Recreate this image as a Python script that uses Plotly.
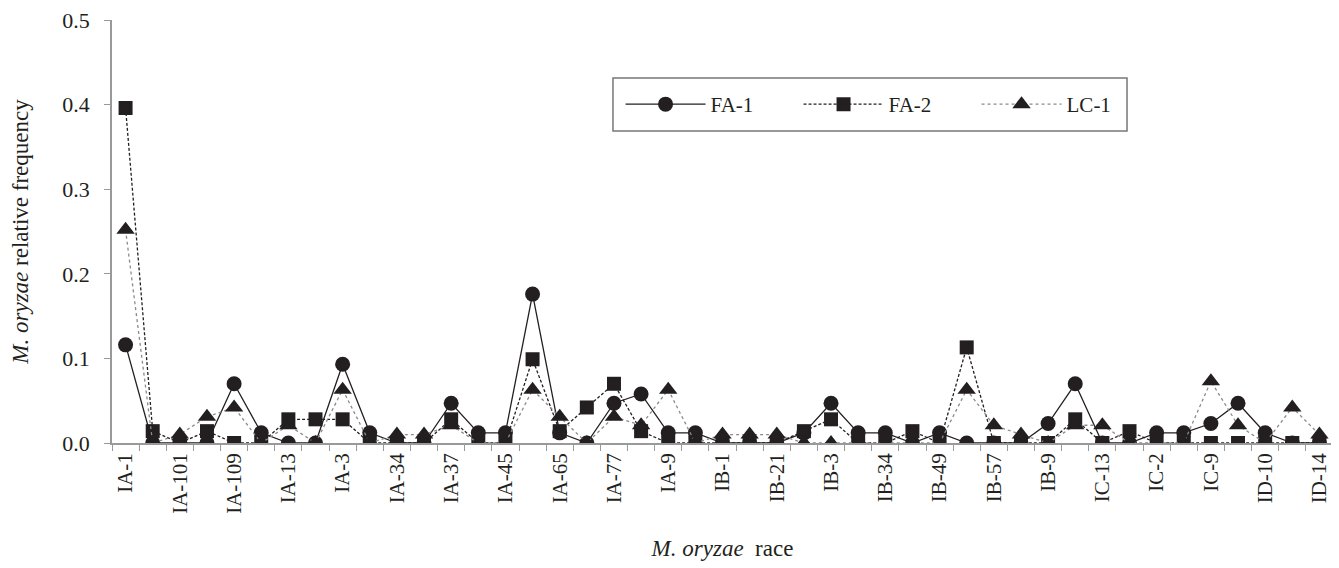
import plotly.graph_objects as go

races = ["IA-1", "IA-10", "IA-101", "IA-105", "IA-109", "IA-117", "IA-13", "IA-25",
         "IA-3", "IA-33", "IA-34", "IA-35", "IA-37", "IA-41", "IA-45", "IA-57",
         "IA-65", "IA-69", "IA-77", "IA-89", "IA-9", "IA-97", "IB-1", "IB-13",
         "IB-21", "IB-25", "IB-3", "IB-33", "IB-34", "IB-45", "IB-49", "IB-5",
         "IB-57", "IB-61", "IB-9", "IC-1", "IC-13", "IC-17", "IC-2", "IC-29",
         "IC-9", "ID-1", "ID-10", "ID-13", "ID-14"]

fa1 = [0.116, 0, 0, 0, 0.070, 0.012, 0, 0, 0.093, 0.012, 0, 0, 0.047, 0.012, 0.012,
       0.176, 0.012, 0, 0.047, 0.058, 0.012, 0.012, 0, 0, 0, 0.012, 0.047, 0.012, 0.012,
       0, 0.012, 0, 0, 0, 0.023, 0.070, 0, 0, 0.012, 0.012, 0.023, 0.047, 0.012, 0, 0]

fa2 = [0.396, 0.014, 0, 0.014, 0, 0, 0.028, 0.028, 0.028, 0, 0, 0, 0.028, 0, 0,
       0.099, 0.014, 0.042, 0.070, 0.014, 0, 0, 0, 0, 0, 0.014, 0.028, 0, 0,
       0.014, 0, 0.113, 0, 0, 0, 0.028, 0, 0.014, 0, 0, 0, 0, 0, 0, 0]

lc1 = [0.252, 0, 0.010, 0.031, 0.042, 0, 0.021, 0, 0.063, 0, 0.010, 0.010, 0.021, 0, 0,
       0.063, 0.031, 0, 0.031, 0.021, 0.063, 0, 0.010, 0.010, 0.010, 0, 0, 0, 0,
       0, 0, 0.063, 0.021, 0.010, 0, 0.021, 0.021, 0, 0, 0, 0.073, 0.021, 0, 0.042, 0.010]

y_ticks = [0.0, 0.1, 0.2, 0.3, 0.4, 0.5]

idx = list(range(len(races)))
ink = "#231f20"
font = "Liberation Serif"

fig = go.Figure()
fig.add_trace(go.Scatter(x=idx, y=fa1, name="FA-1", mode="lines+markers",
                         line=dict(color=ink, width=1.3),
                         marker=dict(symbol="circle", size=15, color=ink)))
fig.add_trace(go.Scatter(x=idx, y=fa2, name="FA-2", mode="lines+markers",
                         line=dict(color=ink, width=1.3, dash="3px,2px"),
                         marker=dict(symbol="square", size=14, color=ink)))
fig.add_trace(go.Scatter(x=idx, y=lc1, name="LC-1", mode="lines+markers",
                         line=dict(color="#8a8a8a", width=1.3, dash="dot"),
                         marker=dict(symbol="triangle-up", size=16, color=ink)))

# legend frame (legend itself is drawn without border)
fig.add_shape(type="rect", xref="paper", yref="paper",
              x0=0.4103, x1=0.8313, y0=0.7376, y1=0.8629,
              line=dict(color="#777777", width=1.5), fillcolor="white", layer="below")

fig.update_layout(
    width=1339, height=568,
    margin=dict(l=104, r=14, t=12, b=133, autoexpand=False),
    paper_bgcolor="white", plot_bgcolor="white",
    font=dict(family=font, size=20, color=ink),
    showlegend=True,
    legend=dict(orientation="h", x=0.4165, y=0.8002, xanchor="left", yanchor="middle",
                borderwidth=0, bgcolor="rgba(0,0,0,0)",
                font=dict(family=font, size=21, color=ink),
                itemwidth=80, entrywidth=83, entrywidthmode="pixels",
                itemclick=False),
    xaxis=dict(range=[-0.5, len(races) - 0.5], showgrid=False, zeroline=False,
               showline=True, linecolor="#999999", linewidth=1.5,
               tickmode="array", tickvals=idx[::2], ticktext=races[::2],
               tickangle=-90, ticks="", tickfont=dict(family=font, size=21, color=ink),
               minor=dict(tickmode="array", tickvals=[i - 0.5 for i in idx] + [len(races) - 0.5],
                          ticks="outside", ticklen=6, tickcolor="#999999", tickwidth=1.2),
               title=dict(text="<i>M. oryzae</i>  race", font=dict(family=font, size=23, color=ink),
                          standoff=27)),
    yaxis=dict(range=[0, 0.5], showgrid=False, zeroline=False,
               showline=True, linecolor="#999999", linewidth=1.5,
               tickmode="array", tickvals=y_ticks, tickformat=".1f",
               ticks="outside", ticklen=6, tickcolor="#999999", tickwidth=1.2,
               ticklabeloverflow="allow", ticklabelstandoff=10,
               tickfont=dict(family=font, size=22, color=ink),
               title=dict(text="<i>M. oryzae</i> relative frequency",
                          font=dict(family=font, size=23, color=ink), standoff=30)),
)

fig.write_html("out.html")
